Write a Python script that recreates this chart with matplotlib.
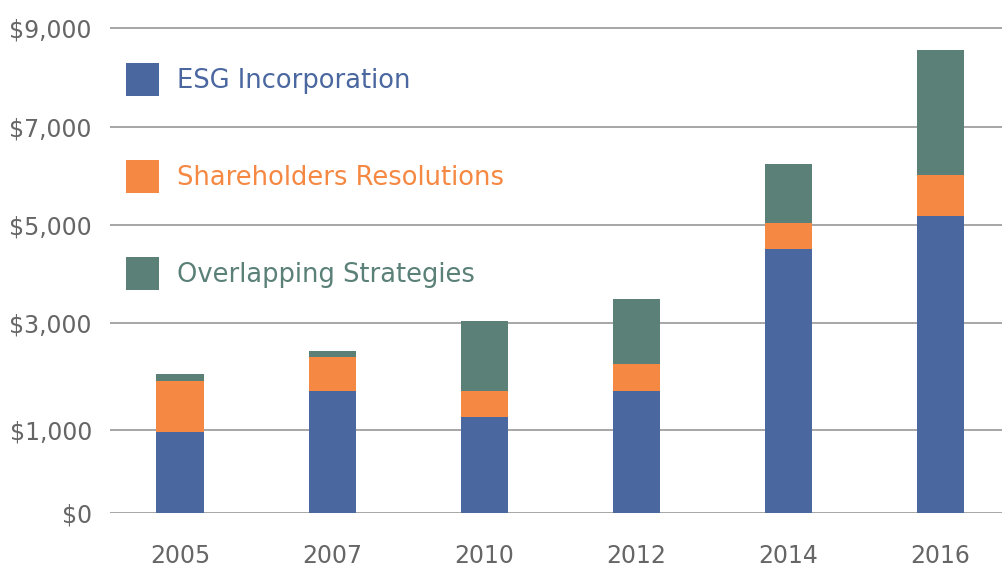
import numpy as np
import matplotlib.pyplot as plt

# ESG assets by strategy (billions USD)
years = ['2005', '2007', '2010', '2012', '2014', '2016']
esg = [980, 1730, 1240, 1730, 4510, 5180]
shareholder = [940, 630, 490, 500, 530, 840]
overlap = [130, 110, 1310, 1260, 1200, 2540]

tick_vals = [0, 1000, 3000, 5000, 7000, 9000]
tick_labels = ['$0', '$1,000', '$3,000', '$5,000', '$7,000', '$9,000']

# the original axis is not evenly spaced: map label values to drawn heights
scale_vals = [0, 1000, 3000, 5000, 7000, 9000, 10000]
scale_pos = [0, 83, 190, 288, 386, 485, 535]


def fwd(v):
    return np.interp(v, scale_vals, scale_pos)


def inv(p):
    return np.interp(p, scale_pos, scale_vals)


c_blue = '#4A67A0'
c_orange = '#F58842'
c_green = '#5A8078'

plt.rcParams['font.family'] = ['DejaVu Sans']

fig = plt.figure(figsize=(10.03, 5.69), dpi=100)
W, H = 1003, 569
ax = fig.add_axes([110 / W, (H - 513) / H, (1003 - 110) / W, (513 - 20) / H])
ax.set_yscale('function', functions=(fwd, inv))

x = np.arange(len(years))
bw = 0.31
b1 = ax.bar(x, esg, bw, color=c_blue, label='ESG Incorporation', zorder=3)
bot2 = np.array(esg)
b2 = ax.bar(x, shareholder, bw, bottom=bot2, color=c_orange,
            label='Shareholders Resolutions', zorder=3)
bot3 = bot2 + np.array(shareholder)
b3 = ax.bar(x, overlap, bw, bottom=bot3, color=c_green,
            label='Overlapping Strategies', zorder=3)

ax.set_xlim(-0.46, 5.41)
ax.set_ylim(0, inv(493))
ax.set_yticks(tick_vals)
ax.set_yticklabels(tick_labels)
ax.set_xticks(x)
ax.set_xticklabels(years)
ax.yaxis.set_minor_locator(plt.NullLocator())

ax.grid(axis='y', color='#A6A6A6', linewidth=1.4, zorder=0)
for s in ax.spines.values():
    s.set_visible(False)
ax.tick_params(axis='both', length=0, labelsize=17, labelcolor='#666666')
ax.tick_params(axis='y', pad=13)
ax.tick_params(axis='x', pad=22)

leg = ax.legend(handles=[b1, b2, b3], loc='upper left',
                bbox_to_anchor=(113 / W, 1 - 50 / H),
                bbox_transform=fig.transFigure, frameon=False,
                fontsize=18.5, handlelength=1.28, handleheight=1.6,
                handletextpad=0.7, labelspacing=2.5, borderpad=0)
for t, c in zip(leg.get_texts(), [c_blue, c_orange, c_green]):
    t.set_color(c)

fig.savefig('out.png', dpi=100, facecolor='white')
